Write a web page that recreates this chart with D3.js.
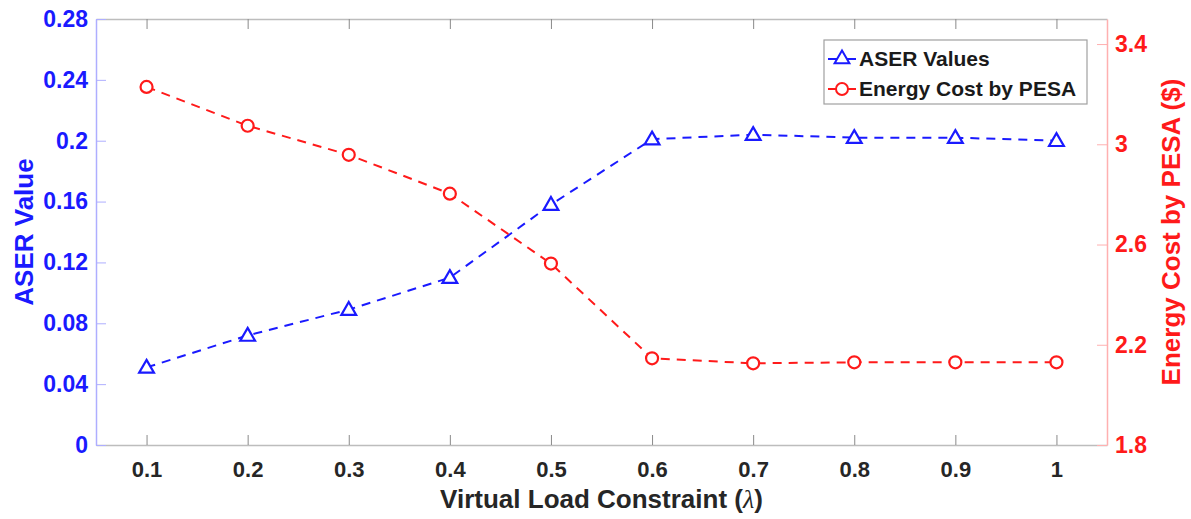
<!DOCTYPE html>
<html>
<head>
<meta charset="utf-8">
<script src="https://cdn.jsdelivr.net/npm/d3@7"></script>
<style>
  body { margin: 0; background: #fff; }
  text { font-family: "Liberation Sans", Arial, sans-serif; font-weight: bold; }
</style>
</head>
<body>
<script>
// data
const lambdas = [0.1, 0.2, 0.3, 0.4, 0.5, 0.6, 0.7, 0.8, 0.9, 1.0]
const aserValues = [0.051, 0.072, 0.089, 0.110, 0.158, 0.201, 0.204, 0.202, 0.202, 0.200]
const energyCost = [3.229, 3.074, 2.958, 2.803, 2.524, 2.146, 2.126, 2.130, 2.130, 2.130]
const xTicks = [0.1, 0.2, 0.3, 0.4, 0.5, 0.6, 0.7, 0.8, 0.9, 1]
const leftTicks = [0, 0.04, 0.08, 0.12, 0.16, 0.2, 0.24, 0.28]
const rightTicks = [1.8, 2.2, 2.6, 3.0, 3.4]
const seriesNames = ["ASER Values", "Energy Cost by PESA"]

const width = 1191, height = 519
const margin = {top: 19, right: 84, bottom: 74, left: 96}
const blue = "#1a1aff", red = "#ff1a1a"

const svg = d3.select("body").append("svg")
    .attr("width", width)
    .attr("height", height)

const x = d3.scaleLinear().domain([0.05, 1.05]).range([margin.left, width - margin.right])
const yL = d3.scaleLinear().domain([0, 0.28]).range([height - margin.bottom, margin.top])
const yR = d3.scaleLinear().domain([1.8, 3.5]).range([height - margin.bottom, margin.top])

// axes, ticks pointing inward like matlab
const fmtL = d => d === 0 ? "0" : d3.format("")(+d.toFixed(2))
const fmtX = d => d3.format("")(+d.toFixed(1))

svg.append("g")
    .attr("transform", `translate(0,${height - margin.bottom})`)
    .call(d3.axisBottom(x).tickValues(xTicks).tickFormat(fmtX).tickSizeInner(-10).tickSizeOuter(0).tickPadding(16))
    .call(g => g.select(".domain").attr("stroke", "#bdbdbd").attr("stroke-width", 1.5))
    .call(g => g.selectAll(".tick line").attr("stroke", "#8a8a8a"))
    .call(g => g.selectAll(".tick text").attr("fill", "#262626").attr("font-size", 22))

svg.append("g")
    .attr("transform", `translate(0,${margin.top})`)
    .call(d3.axisTop(x).tickValues(xTicks).tickFormat("").tickSizeInner(-10).tickSizeOuter(0))
    .call(g => g.select(".domain").attr("stroke", "#bdbdbd").attr("stroke-width", 1.5))
    .call(g => g.selectAll(".tick line").attr("stroke", "#8a8a8a"))

svg.append("g")
    .attr("transform", `translate(${margin.left},0)`)
    .call(d3.axisLeft(yL).tickValues(leftTicks).tickFormat(fmtL).tickSizeInner(-10).tickSizeOuter(0).tickPadding(8))
    .call(g => g.select(".domain").attr("stroke", "#aeaeff").attr("stroke-width", 1.5))
    .call(g => g.selectAll(".tick line").attr("stroke", "#aeaeff"))
    .call(g => g.selectAll(".tick text").attr("fill", blue).attr("font-size", 23))

svg.append("g")
    .attr("transform", `translate(${width - margin.right},0)`)
    .call(d3.axisRight(yR).tickValues(rightTicks).tickFormat(d => d3.format("")(+d.toFixed(1))).tickSizeInner(-10).tickSizeOuter(0).tickPadding(8))
    .call(g => g.select(".domain").attr("stroke", "#ffb0b0").attr("stroke-width", 1.5))
    .call(g => g.selectAll(".tick line").attr("stroke", "#ffb0b0"))
    .call(g => g.selectAll(".tick text").attr("fill", red).attr("font-size", 23))

// axis titles
const xTitle = svg.append("text")
    .attr("x", (margin.left + width - margin.right) / 2)
    .attr("y", 508)
    .attr("text-anchor", "middle")
    .attr("font-size", 26)
    .attr("fill", "#262626")
xTitle.append("tspan").text("Virtual Load Constraint (")
xTitle.append("tspan")
    .attr("font-family", "'Liberation Serif', 'Times New Roman', serif")
    .attr("font-weight", "normal")
    .attr("font-style", "italic")
    .text("λ")
xTitle.append("tspan").text(")")

svg.append("text")
    .attr("transform", `translate(33,${(margin.top + height - margin.bottom) / 2}) rotate(-90)`)
    .attr("text-anchor", "middle")
    .attr("font-size", 26)
    .attr("fill", blue)
    .text("ASER Value")

svg.append("text")
    .attr("transform", `translate(1180,${(margin.top + height - margin.bottom) / 2}) rotate(-90)`)
    .attr("text-anchor", "middle")
    .attr("font-size", 26)
    .attr("fill", red)
    .text("Energy Cost by PESA ($)")

// series
const lineL = d3.line().x((d, i) => x(lambdas[i])).y(d => yL(d))
const lineR = d3.line().x((d, i) => x(lambdas[i])).y(d => yR(d))

svg.append("path")
    .datum(aserValues)
    .attr("d", lineL)
    .attr("fill", "none")
    .attr("stroke", blue)
    .attr("stroke-width", 2)
    .attr("stroke-dasharray", "9,7")

svg.append("path")
    .datum(energyCost)
    .attr("d", lineR)
    .attr("fill", "none")
    .attr("stroke", red)
    .attr("stroke-width", 2)
    .attr("stroke-dasharray", "9,7")

const tri = d3.symbol().type(d3.symbolTriangle).size(95)

svg.append("g").selectAll("path")
    .data(aserValues)
    .join("path")
    .attr("transform", (d, i) => `translate(${x(lambdas[i])},${yL(d) + 1})`)
    .attr("d", tri)
    .attr("fill", "#fff")
    .attr("stroke", blue)
    .attr("stroke-width", 2.2)

svg.append("g").selectAll("circle")
    .data(energyCost)
    .join("circle")
    .attr("cx", (d, i) => x(lambdas[i]))
    .attr("cy", d => yR(d))
    .attr("r", 6)
    .attr("fill", "#fff")
    .attr("stroke", red)
    .attr("stroke-width", 2.2)

// legend
const legend = svg.append("g")
legend.append("rect")
    .attr("x", 824).attr("y", 40)
    .attr("width", 263).attr("height", 64)
    .attr("fill", "#fff")
    .attr("stroke", "#a0a0a0")
    .attr("stroke-width", 1.2)

const legendRows = [
    {name: seriesNames[0], color: blue, y: 59, kind: "tri"},
    {name: seriesNames[1], color: red, y: 89, kind: "circ"}
]
legendRows.forEach(r => {
    legend.append("line")
        .attr("x1", 828).attr("x2", 856)
        .attr("y1", r.y).attr("y2", r.y)
        .attr("stroke", r.color).attr("stroke-width", 2)
    if (r.kind === "tri") {
        legend.append("path")
            .attr("transform", `translate(842,${r.y})`)
            .attr("d", tri)
            .attr("fill", "#fff").attr("stroke", r.color).attr("stroke-width", 2)
    } else {
        legend.append("circle")
            .attr("cx", 842).attr("cy", r.y).attr("r", 6)
            .attr("fill", "#fff").attr("stroke", r.color).attr("stroke-width", 2)
    }
    legend.append("text")
        .attr("x", 859).attr("y", r.y + 7)
        .attr("font-size", 21)
        .attr("fill", "#1a1a1a")
        .text(r.name)
})
</script>
</body>
</html>
